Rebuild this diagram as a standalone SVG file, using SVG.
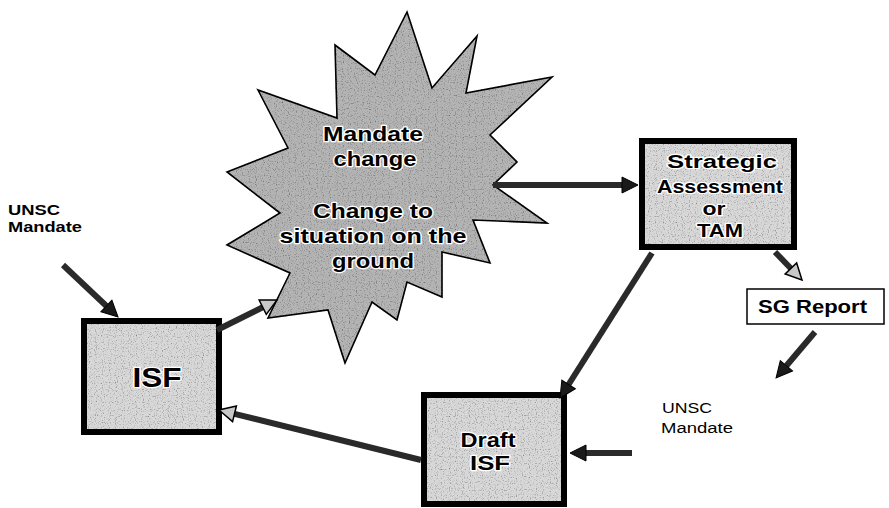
<svg xmlns="http://www.w3.org/2000/svg" width="889" height="508" viewBox="0 0 889 508">
<style>
  .t { font-family: "Liberation Sans", Arial, sans-serif; font-weight: bold; fill: #000; }
  .tn { font-family: "Liberation Sans", Arial, sans-serif; font-weight: normal; fill: #000; }
  .halo { paint-order: stroke; stroke: #fff; stroke-width: 2.5; stroke-linejoin: round; }
  .box { fill: #d8d8d8; stroke: #000; stroke-width: 6; filter: url(#grain); }
  .star { fill: #b4b4b4; stroke: #000; stroke-width: 1.6; stroke-linejoin: miter; filter: url(#grain); }
  .sg { fill: #fff; stroke: #000; stroke-width: 1.5; }
  .conn { stroke: #2a2a2a; stroke-width: 6; fill: none; }
  .solid { marker-end: url(#headSolid); }
  .open { marker-end: url(#headOpen); }
</style>
<defs>
  <filter id="grain" x="-0.02" y="-0.02" width="1.04" height="1.04">
    <feTurbulence type="fractalNoise" baseFrequency="0.85" numOctaves="1" seed="4" result="noise"/>
    <feColorMatrix in="noise" type="matrix" values="0 0 0 0 0  0 0 0 0 0  0 0 0 0 0  2.2 0 0 0 -1.15" result="dots"/>
    <feComposite in="dots" in2="SourceAlpha" operator="in" result="dotsIn"/>
    <feMerge><feMergeNode in="SourceGraphic"/><feMergeNode in="dotsIn"/></feMerge>
  </filter>
  <marker id="headSolid" markerUnits="userSpaceOnUse" markerWidth="18" markerHeight="18" refX="0" refY="8" orient="auto" viewBox="0 0 18 16" overflow="visible">
    <path d="M0,0 L16,8 L0,16 Z" fill="#1a1a1a" stroke="#000" stroke-width="1"/>
  </marker>
  <marker id="headOpen" markerUnits="userSpaceOnUse" markerWidth="18" markerHeight="18" refX="0" refY="8" orient="auto" viewBox="0 0 18 16" overflow="visible">
    <path d="M0,0 L16,8 L0,16 Z" fill="#c8c8c8" stroke="#000" stroke-width="1.5"/>
  </marker>
</defs>

<g id="star">
  <polygon class="star" points="407,12 432,88 477,36 466,93 552,77 490,135 517,162 493,185 547,223 473,220 490,263 442,252 442,297 407,282 397,320 372,302 345,363 328,310 268,318 290,273 227,245 280,213 227,172 288,148 258,90 337,118 335,45 375,75"/>
  <text class="t halo" font-size="21" text-anchor="middle" x="373" y="141" textLength="100" lengthAdjust="spacingAndGlyphs">Mandate</text>
  <text class="t halo" font-size="21" text-anchor="middle" x="375" y="166" textLength="83" lengthAdjust="spacingAndGlyphs">change</text>
  <text class="t halo" font-size="21" text-anchor="middle" x="373" y="218" textLength="120" lengthAdjust="spacingAndGlyphs">Change to</text>
  <text class="t halo" font-size="21" text-anchor="middle" x="373" y="243" textLength="187" lengthAdjust="spacingAndGlyphs">situation on the</text>
  <text class="t halo" font-size="21" text-anchor="middle" x="373" y="268" textLength="82" lengthAdjust="spacingAndGlyphs">ground</text>
</g>

<g id="isf">
  <rect class="box" x="84" y="321" width="135" height="111"/>
  <text class="t halo" font-size="27" text-anchor="middle" x="157" y="387" textLength="49" lengthAdjust="spacingAndGlyphs">ISF</text>
</g>

<g id="strategic">
  <rect class="box" x="642" y="141" width="152" height="106"/>
  <text class="t halo" font-size="18" text-anchor="middle" x="722" y="168" textLength="110" lengthAdjust="spacingAndGlyphs">Strategic</text>
  <text class="t halo" font-size="18" text-anchor="middle" x="720" y="193" textLength="126" lengthAdjust="spacingAndGlyphs">Assessment</text>
  <text class="t halo" font-size="18" text-anchor="middle" x="714" y="215" textLength="23" lengthAdjust="spacingAndGlyphs">or</text>
  <text class="t halo" font-size="18" text-anchor="middle" x="720" y="237" textLength="46" lengthAdjust="spacingAndGlyphs">TAM</text>
</g>

<g id="draft-isf">
  <rect class="box" x="424" y="395" width="140" height="109"/>
  <text class="t halo" font-size="21" text-anchor="middle" x="488" y="447" textLength="55" lengthAdjust="spacingAndGlyphs">Draft</text>
  <text class="t halo" font-size="21" text-anchor="middle" x="490" y="470" textLength="40" lengthAdjust="spacingAndGlyphs">ISF</text>
</g>

<g id="sg-report">
  <rect class="sg" x="747" y="289" width="137" height="35"/>
  <text class="t" font-size="18" x="758" y="313" textLength="109" lengthAdjust="spacingAndGlyphs">SG Report</text>
</g>

<g id="unsc-left">
  <text class="t" font-size="14" x="8" y="215" textLength="52" lengthAdjust="spacingAndGlyphs">UNSC</text>
  <text class="t" font-size="14" x="8" y="232" textLength="74" lengthAdjust="spacingAndGlyphs">Mandate</text>
</g>

<g id="unsc-right">
  <text class="tn" font-size="14" x="662" y="413" textLength="50" lengthAdjust="spacingAndGlyphs">UNSC</text>
  <text class="tn" font-size="14" x="661" y="433" textLength="72" lengthAdjust="spacingAndGlyphs">Mandate</text>
</g>

<g id="connectors">
  <line class="conn solid" x1="63" y1="265" x2="106.4" y2="306"/>
  <line class="conn open" x1="217" y1="330" x2="262.7" y2="307.2"/>
  <line class="conn solid" x1="493" y1="185" x2="622" y2="185"/>
  <line class="conn solid" x1="652" y1="253" x2="568.6" y2="384.5"/>
  <line class="conn open" x1="775" y1="252" x2="790.9" y2="268.5"/>
  <line class="conn solid" x1="815" y1="332" x2="786.4" y2="365.8"/>
  <line class="conn solid" x1="632" y1="453" x2="586" y2="453"/>
  <line class="conn open" x1="421" y1="460" x2="234.5" y2="413.8"/>
</g>
</svg>
